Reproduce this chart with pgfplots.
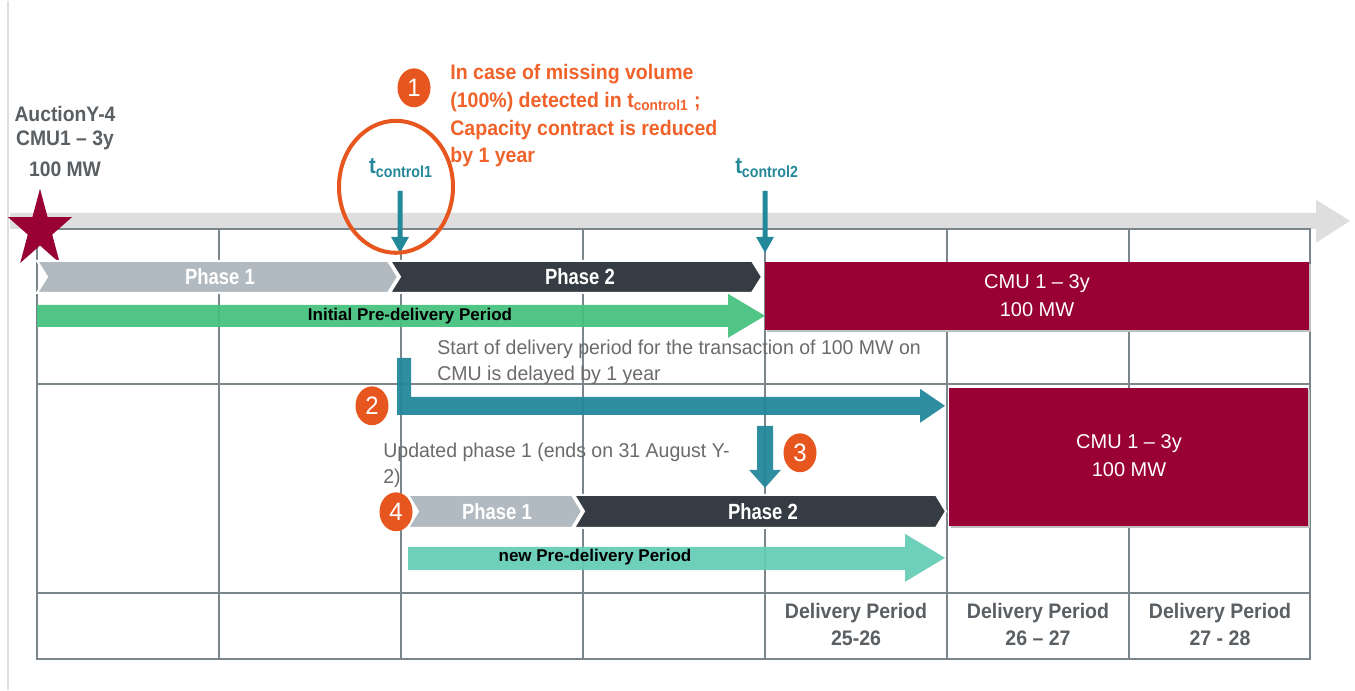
\documentclass[border=0pt]{standalone}
\usepackage{pgfplots}
\pgfplotsset{compat=1.18}
\usepackage{fontspec}
\setmainfont{Liberation Sans}
\usetikzlibrary{shapes.geometric}
\definecolor{cmured}{HTML}{990033}
\definecolor{ph1}{HTML}{B1BAC0}
\definecolor{ph2}{HTML}{363C43}
\definecolor{grn}{HTML}{43C17B}
\definecolor{newgrn}{HTML}{62CDB6}
\definecolor{teal2}{HTML}{23889A}
\definecolor{org}{HTML}{E8561F}
\definecolor{orgtxt}{HTML}{F0622A}
\definecolor{gridc}{HTML}{7B858C}
\definecolor{band}{HTML}{DEDEDE}
\definecolor{txtgray}{HTML}{5A5F63}
\definecolor{txtlight}{HTML}{6B6B6B}
\newcommand\fs[1]{\fontsize{#1}{#1}\selectfont}
\begin{document}
\begin{tikzpicture}
\begin{axis}[
  scale only axis,
  width=677.5pt, height=344.5pt,
  xmin=0, xmax=1355, ymin=0, ymax=689,
  y dir=reverse,
  hide axis,
  clip=false,
  every axis plot/.append style={forget plot},
]
% background
\addplot[fill=white, draw=none] coordinates {(0,0)(1355,0)(1355,689)(0,689)} -- cycle;
\addplot[draw=band, line width=0.8pt] coordinates {(8,0)(8,689)};

% timeline band
\addplot[fill=band, draw=none] coordinates {
  (10,212)(1316,212)(1316,199)(1350,220)(1316,242)(1316,228)(10,228)} -- cycle;

% grid
\addplot[draw=gridc, line width=0.8pt] coordinates {(37,228)(1310,228)(1310,658)(37,658)} -- cycle;
\addplot[draw=gridc, line width=0.8pt] coordinates {(37,383)(1310,383)};
\addplot[draw=gridc, line width=0.8pt] coordinates {(37,592)(1310,592)};
\foreach \xx in {219,401,583,765,947,1129} {
  \edef\tmp{\noexpand\addplot[draw=gridc, line width=0.8pt] coordinates {(\xx,228)(\xx,658)};}
  \tmp
}

% star
\addplot[fill=cmured, draw=none] coordinates {
  (40,188)(47.6,216.3)(72.0,216.3)(52.2,233.8)(59.8,262.2)
  (40,244.7)(20.2,262.2)(27.8,233.8)(8.0,216.3)(32.4,216.3)} -- cycle;

% row 1 chevrons
\addplot[fill=ph1, draw=white, line width=1pt] coordinates {
  (37,260)(388,260)(398,276)(388,292)(37,292)(47,276)} -- cycle;
\addplot[fill=ph2, draw=white, line width=1pt] coordinates {
  (390,260)(752,260)(762,276)(752,292)(390,292)(400,276)} -- cycle;

% initial pre-delivery arrow
\addplot[fill=grn, draw=none, fill opacity=0.92] coordinates {
  (37,304)(728,304)(728,293)(765,315)(728,337)(728,326)(37,326)} -- cycle;

% CMU box 1
\addplot[fill=black!25, draw=none] coordinates {(767,263)(1311,263)(1311,331)(767,331)} -- cycle;
\addplot[fill=cmured, draw=none] coordinates {(765,261)(1309,261)(1309,329)(765,329)} -- cycle;

% CMU box 2
\addplot[fill=black!25, draw=none] coordinates {(951,389)(1310,389)(1310,527)(951,527)} -- cycle;
\addplot[fill=cmured, draw=none] coordinates {(949,387)(1308,387)(1308,525)(949,525)} -- cycle;

% t_control arrows
\addplot[fill=teal2, draw=none] coordinates {
  (397.5,190)(402.5,190)(402.5,236)(409,236)(400,252)(391,236)(397.5,236)} -- cycle;
\addplot[fill=teal2, draw=none] coordinates {
  (762.5,190)(767.5,190)(767.5,236)(774,236)(765,252)(756,236)(762.5,236)} -- cycle;

% L-shaped delay arrow
\addplot[fill=teal2, draw=none, fill opacity=0.95] coordinates {
  (397,357)(411,357)(411,396)(920,396)(920,388)(945,405)(920,422)(920,414)(397,414)} -- cycle;

% down arrow 3
\addplot[fill=teal2, draw=none, fill opacity=0.95] coordinates {
  (757,425)(773,425)(773,469)(781,469)(765,487)(749,469)(757,469)} -- cycle;

% row 2 chevrons
\addplot[fill=ph1, draw=white, line width=1pt] coordinates {
  (408,494)(572,494)(582,510.5)(572,527)(408,527)(418,510.5)} -- cycle;
\addplot[fill=ph2, draw=white, line width=1pt] coordinates {
  (574,494)(936,494)(946,510.5)(936,527)(574,527)(584,510.5)} -- cycle;

% new pre-delivery arrow
\addplot[fill=newgrn, draw=none, fill opacity=0.92] coordinates {
  (408,546)(905,546)(905,533)(945,557)(905,581)(905,569)(408,569)} -- cycle;

% orange ellipse
\draw[org, line width=2pt] (axis cs:396,186) ellipse [x radius=28.5pt, y radius=33pt];

% numbered badges
\foreach \px/\py/\nn in {414/87/1, 372/405/2, 800/452/3, 396/511/4} {
  \edef\tmp{\noexpand\node[ellipse, fill=org, minimum width=16.5pt, minimum height=18.5pt,
    inner sep=0pt, text=white, font=\noexpand\fs{12}, yscale=1.05] at (axis cs:\px,\py) {\nn};}
  \tmp
}

% texts
\begin{scope}[every node/.style={inner sep=0pt}]
\node[font=\fs{10.5}\bfseries, text=txtgray, xscale=0.92] at (axis cs:65,113) {AuctionY-4};
\node[font=\fs{10.5}\bfseries, text=txtgray, xscale=0.92] at (axis cs:65,140) {CMU1 -- 3y};
\node[font=\fs{10.5}\bfseries, text=txtgray, xscale=0.92] at (axis cs:65,168) {100 MW};

\node[font=\fs{10.5}\bfseries, text=orgtxt, anchor=west, xscale=0.93] at (axis cs:450,73) {In case of missing volume};
\node[font=\fs{10.5}\bfseries, text=orgtxt, anchor=west, xscale=0.93] at (axis cs:450,101) {(100\%) detected in t\textsubscript{control1} ;};
\node[font=\fs{10.5}\bfseries, text=orgtxt, anchor=west, xscale=0.93] at (axis cs:450,129) {Capacity contract is reduced};
\node[font=\fs{10.5}\bfseries, text=orgtxt, anchor=west, xscale=0.93] at (axis cs:450,156) {by 1 year};

\node[font=\fs{11.5}\bfseries, text=teal2, xscale=0.88] at (axis cs:401,167) {t\textsubscript{control1}};
\node[font=\fs{11.5}\bfseries, text=teal2, xscale=0.88] at (axis cs:767,167) {t\textsubscript{control2}};

\node[font=\fs{11}\bfseries, text=white, xscale=0.84] at (axis cs:220,276) {Phase 1};
\node[font=\fs{11}\bfseries, text=white, xscale=0.84] at (axis cs:580,276) {Phase 2};
\node[font=\fs{8.5}\bfseries, text=black] at (axis cs:410,315) {Initial Pre-delivery Period};

\node[font=\fs{10}, text=white] at (axis cs:1037,283) {CMU 1 -- 3y};
\node[font=\fs{10}, text=white] at (axis cs:1037,309) {100 MW};
\node[font=\fs{10}, text=white] at (axis cs:1129,443) {CMU 1 -- 3y};
\node[font=\fs{10}, text=white] at (axis cs:1129,469) {100 MW};

\node[font=\fs{10}, text=txtlight, anchor=west, xscale=0.975] at (axis cs:437,349) {Start of delivery period for the transaction of 100 MW on};
\node[font=\fs{10}, text=txtlight, anchor=west, xscale=0.975] at (axis cs:437,375) {CMU is delayed by 1 year};
\node[font=\fs{10}, text=txtlight, anchor=west, xscale=0.975] at (axis cs:383,452) {Updated phase 1 (ends on 31 August Y-};
\node[font=\fs{10}, text=txtlight, anchor=west, xscale=0.975] at (axis cs:383,478) {2)};

\node[font=\fs{11}\bfseries, text=white, xscale=0.84] at (axis cs:497,511) {Phase 1};
\node[font=\fs{11}\bfseries, text=white, xscale=0.84] at (axis cs:763,511) {Phase 2};
\node[font=\fs{8.5}\bfseries, text=black] at (axis cs:595,556) {new Pre-delivery Period};

\node[font=\fs{10.5}\bfseries, text=txtgray, xscale=0.93] at (axis cs:856,612) {Delivery Period};
\node[font=\fs{10.5}\bfseries, text=txtgray, xscale=0.93] at (axis cs:856,637) {25-26};
\node[font=\fs{10.5}\bfseries, text=txtgray, xscale=0.93] at (axis cs:1038,612) {Delivery Period};
\node[font=\fs{10.5}\bfseries, text=txtgray, xscale=0.93] at (axis cs:1038,637) {26 -- 27};
\node[font=\fs{10.5}\bfseries, text=txtgray, xscale=0.93] at (axis cs:1220,612) {Delivery Period};
\node[font=\fs{10.5}\bfseries, text=txtgray, xscale=0.93] at (axis cs:1220,637) {27 - 28};
\end{scope}
\end{axis}
\end{tikzpicture}
\end{document}
